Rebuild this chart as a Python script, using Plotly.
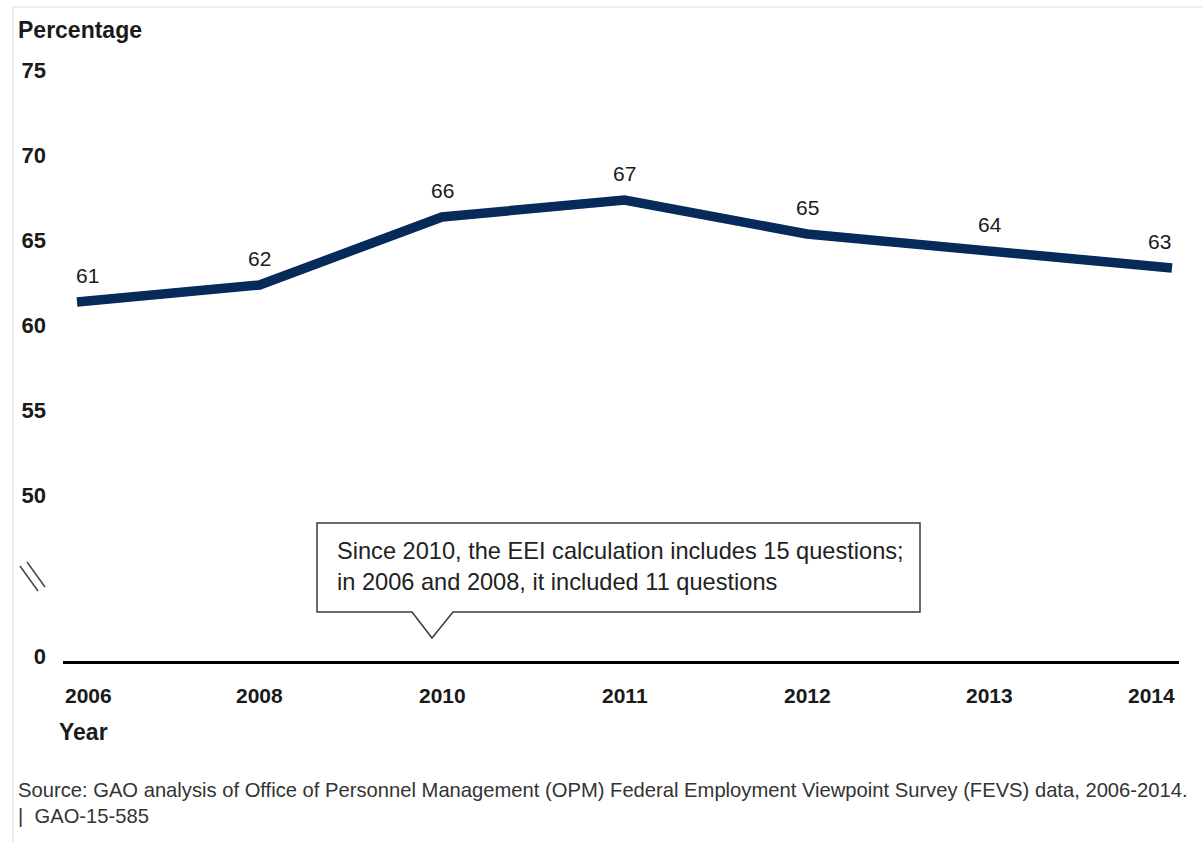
import plotly.graph_objects as go

# Employee Engagement Index (EEI) scores, government-wide
years = ["2006", "2008", "2010", "2011", "2012", "2013", "2014"]
eei_pct = [61, 62, 66, 67, 65, 64, 63]

# Y axis: upper band runs 50-75; the "0" sits on the baseline below a break
y_tick_vals = [50, 55, 60, 65, 70, 75]
y_tick_text = ["50", "55", "60", "65", "70", "75"]
zero_label = "0"

source_lines = [
    "Source: GAO analysis of Office of Personnel Management (OPM) Federal Employment Viewpoint Survey (FEVS) data, 2006-2014.",
    "|  GAO-15-585",
]
callout_lines = [
    "Since 2010, the EEI calculation includes 15 questions;",
    "in 2006 and 2008, it included 11 questions",
]

W, H = 1203, 842
L, R, T, B = 63, 1179, 54, 661          # plot area in pixels
PX_PER_UNIT = 17.0                       # vertical scale of the upper band
PX_PER_CAT = 182.5                       # horizontal spacing of categories
FIRST_CAT_PX = 77

y_top_ref_px, y_top_ref_val = 200, 67
y_min = y_top_ref_val - (B - y_top_ref_px) / PX_PER_UNIT
y_max = y_min + (B - T) / PX_PER_UNIT
x_min = (L - FIRST_CAT_PX) / PX_PER_CAT
x_max = x_min + (R - L) / PX_PER_CAT

FONT = "Arial, 'Liberation Sans', sans-serif"
NAVY = "#062a5a"
INK = "#1a1a1a"


def pxx(px):
    return (px - L) / (R - L)


def pxy(py):
    return (B - py) / (B - T)


x_idx = list(range(len(years)))

fig = go.Figure()
fig.add_trace(go.Scatter(
    x=x_idx, y=eei_pct, mode="lines",
    line=dict(color=NAVY, width=9.5),
    hoverinfo="skip", showlegend=False,
))

annotations = []
last = len(years) - 1

# value labels above each point; end labels nudged inward
for i, v in enumerate(eei_pct):
    shift = 10 if i == 0 else (-13 if i == last else 0)
    annotations.append(dict(
        x=i, y=v, xref="x", yref="y", text=str(v), showarrow=False,
        yshift=27, xshift=shift, xanchor="center", yanchor="middle",
        font=dict(family=FONT, size=21, color=INK),
    ))

# year labels under the baseline; end labels pulled inside the axis ends
for i, yr in enumerate(years):
    shift = 11 if i == 0 else (-21 if i == last else 0)
    annotations.append(dict(
        x=i, y=pxy(695), xref="x", yref="paper", text=f"<b>{yr}</b>",
        showarrow=False, xshift=shift, xanchor="center", yanchor="middle",
        font=dict(family=FONT, size=21, color=INK),
    ))

# axis titles
annotations.append(dict(
    x=pxx(16), y=pxy(30), xref="paper", yref="paper", text="<b>Percentage</b>",
    showarrow=False, xanchor="left", yanchor="middle",
    font=dict(family=FONT, size=23, color=INK),
))
annotations.append(dict(
    x=pxx(57), y=pxy(732), xref="paper", yref="paper", text="<b>Year</b>",
    showarrow=False, xanchor="left", yanchor="middle",
    font=dict(family=FONT, size=23, color=INK),
))

# callout text
annotations.append(dict(
    x=pxx(335), y=pxy(566), xref="paper", yref="paper",
    text="<br>".join(callout_lines), align="left",
    showarrow=False, xanchor="left", yanchor="middle",
    font=dict(family=FONT, size=23.6, color="#222222"),
))

# source note
annotations.append(dict(
    x=pxx(16), y=pxy(777), xref="paper", yref="paper",
    text="<br>".join(source_lines), align="left",
    showarrow=False, xanchor="left", yanchor="top",
    font=dict(family=FONT, size=20.2, color="#333333"),
))

shapes = []
# speech-bubble callout pointing down at 2010
bx0, bx1, by0, by1 = 317, 920, 523, 612
p0, p1, tip_x, tip_y = 412, 453, 432, 638
path = (
    f"M {pxx(bx0)},{pxy(by0)} L {pxx(bx1)},{pxy(by0)} L {pxx(bx1)},{pxy(by1)} "
    f"L {pxx(p1)},{pxy(by1)} L {pxx(tip_x)},{pxy(tip_y)} L {pxx(p0)},{pxy(by1)} "
    f"L {pxx(bx0)},{pxy(by1)} Z"
)
shapes.append(dict(
    type="path", path=path, xref="paper", yref="paper",
    line=dict(color="#3a3a3a", width=1.5), fillcolor="white", layer="above",
))

# axis-break marks
for (x0, y0, x1, y1) in [(20, 566, 38, 591), (27, 562, 45, 587)]:
    shapes.append(dict(
        type="line", xref="paper", yref="paper",
        x0=pxx(x0), y0=pxy(y0), x1=pxx(x1), y1=pxy(y1),
        line=dict(color="#444444", width=1.5),
    ))

# thin frame along the top and left edges
shapes.append(dict(type="line", xref="paper", yref="paper",
                   x0=pxx(13), y0=pxy(7), x1=pxx(W), y1=pxy(7),
                   line=dict(color="#e6e6e6", width=1.5)))
shapes.append(dict(type="line", xref="paper", yref="paper",
                   x0=pxx(13), y0=pxy(7), x1=pxx(13), y1=pxy(H),
                   line=dict(color="#e6e6e6", width=1.5)))

fig.update_layout(
    width=W, height=H,
    margin=dict(l=L, r=W - R, t=T, b=H - B, autoexpand=False),
    paper_bgcolor="white", plot_bgcolor="white",
    showlegend=False,
    annotations=annotations,
    shapes=shapes,
    xaxis=dict(
        range=[x_min, x_max], tickmode="array", tickvals=x_idx,
        showticklabels=False,
        showgrid=False, zeroline=False, showline=True, linecolor="black",
        linewidth=3, ticks="",
        fixedrange=True,
    ),
    yaxis=dict(
        range=[y_min, y_max], tickmode="array",
        tickvals=[y_min + 11 / PX_PER_UNIT] + y_tick_vals,
        ticktext=[zero_label] + y_tick_text,
        showgrid=False, zeroline=False, showline=False, ticks="",
        ticklabelstandoff=16, ticklabelshift=6,
        tickfont=dict(family=FONT, size=22, color=INK, weight="bold"),
        fixedrange=True,
    ),
)

fig.write_html("out.html")
